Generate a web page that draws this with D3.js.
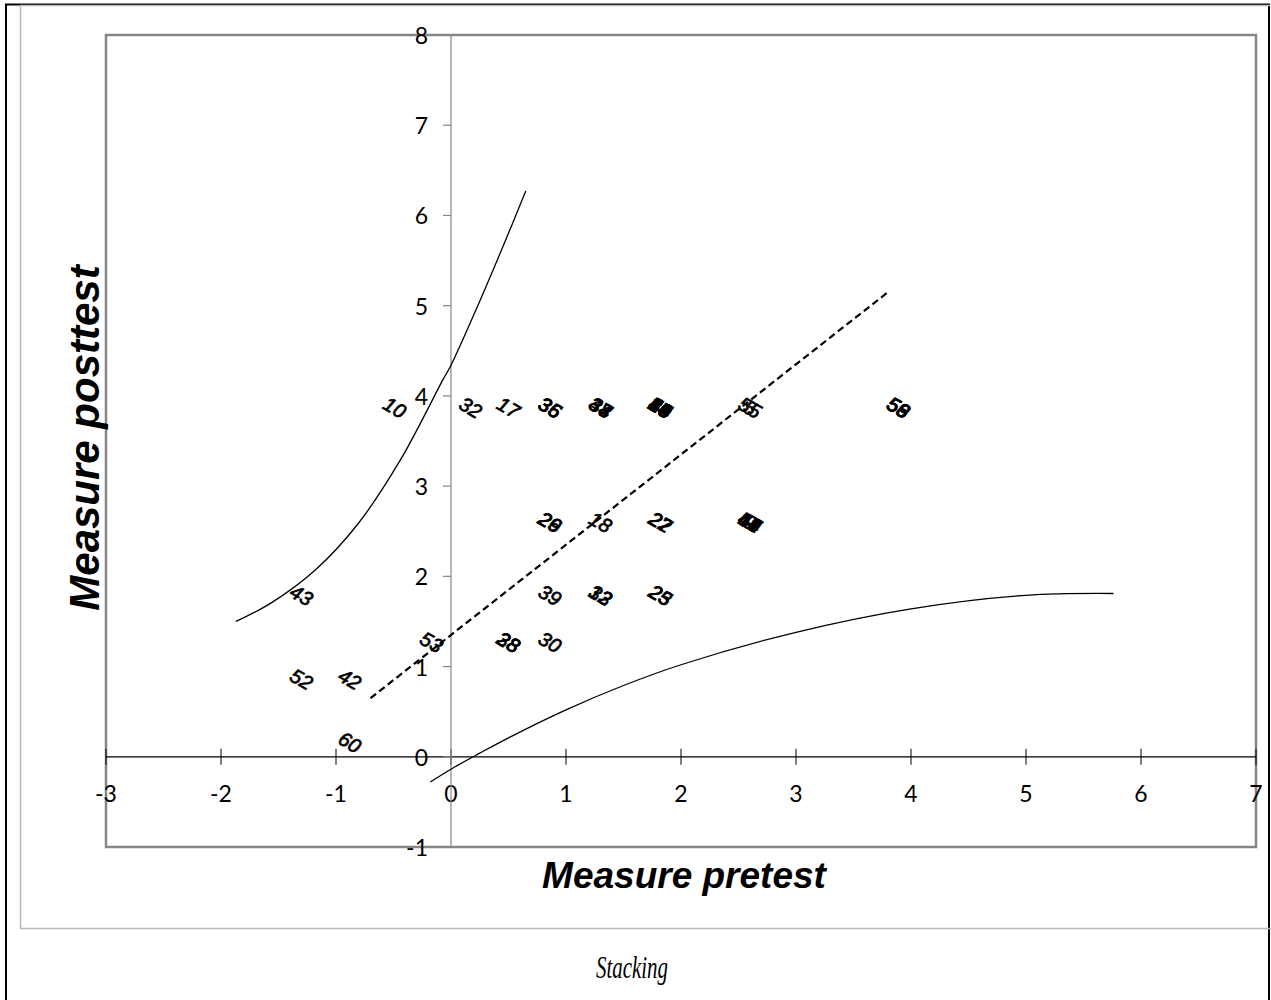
<!DOCTYPE html>
<html>
<head>
<meta charset="utf-8">
<script src="https://cdn.jsdelivr.net/npm/d3@7"></script>
<style>
  html, body { margin: 0; padding: 0; background: #fff; }
  svg { display: block; }
</style>
</head>
<body>
<svg id="chart" width="1271" height="1000"></svg>
<script>
// Person measures: pretest vs posttest, labelled by person id
const personIds = ["10","32","17","35","36","34","48","37",
                   "19","20","24","40","44","45","46","50","57","5","55","56","58","59",
                   "26","29","18","22","27","9","14","41","47","49","54",
                   "43","39","12","33","23","25",
                   "53","28","38","30",
                   "52","42","60"];
const pretest  = [-0.49,0.17,0.50,0.86,0.86,1.30,1.30,1.30,
                   1.82,1.82,1.82,1.82,1.82,1.82,1.82,1.82,1.82,2.60,2.60,3.89,3.89,3.89,
                   0.86,0.86,1.30,1.82,1.82,2.60,2.60,2.60,2.60,2.60,2.60,
                   -1.30,0.86,1.30,1.30,1.82,1.82,
                   -0.17,0.50,0.50,0.86,
                   -1.30,-0.88,-0.88];
const posttest = [3.87,3.87,3.87,3.87,3.87,3.87,3.87,3.87,
                   3.87,3.87,3.87,3.87,3.87,3.87,3.87,3.87,3.87,3.87,3.87,3.87,3.87,3.87,
                   2.60,2.60,2.60,2.60,2.60,2.60,2.60,2.60,2.60,2.60,2.60,
                   1.79,1.79,1.79,1.79,1.79,1.79,
                   1.27,1.27,1.27,1.27,
                   0.86,0.86,0.16];

// Identity (stability) line
const identityX = [-0.70, 3.80];
const identityY = [0.65, 5.15];

// Upper control curve
const upperX = [-1.87,-1.57,-1.18,-0.81,-0.44,-0.07,0.00,0.25,0.45,0.65];
const upperY = [ 1.50, 1.70, 2.07, 2.58, 3.29, 4.18,4.34,5.05,5.65,6.27];

// Lower control curve
const lowerX = [-0.18, 0.01, 0.25, 0.50, 1.00, 1.50, 2.00, 3.00, 4.00, 5.00, 5.76];
const lowerY = [-0.28,-0.13, 0.04, 0.21, 0.52, 0.79, 1.02, 1.38, 1.64, 1.79, 1.81];

const xTicks = [-3,-2,-1,0,1,2,3,4,5,6,7];
const yTicks = [-1,0,1,2,3,4,5,6,7,8];

const svg = d3.select("#chart");

// Frame around the figure and the chart area
svg.append("rect").attr("x", 6).attr("y", 4.5).attr("width", 1263).attr("height", 1010)
  .attr("fill", "none").attr("stroke", "#000").attr("stroke-width", 2);
svg.append("rect").attr("x", 20.5).attr("y", 5.5).attr("width", 1270).attr("height", 923)
  .attr("fill", "none").attr("stroke", "#b8b8b8").attr("stroke-width", 1.5);

const plot = { left: 106, right: 1256, top: 35, bottom: 847 };
const x = d3.scaleLinear().domain([-3, 7]).range([plot.left, plot.right]);
const y = d3.scaleLinear().domain([-1, 8]).range([plot.bottom, plot.top]);

// Plot area border
svg.append("rect").attr("x", plot.left).attr("y", plot.top)
  .attr("width", plot.right - plot.left).attr("height", plot.bottom - plot.top)
  .attr("fill", "none").attr("stroke", "#868686").attr("stroke-width", 2.5);

const tickFont = "Lato, 'Open Sans', sans-serif";

// Horizontal axis through y = 0, ticks crossing the line
const xAxis = svg.append("g").attr("transform", `translate(0,${y(0)})`);
xAxis.append("line").attr("x1", plot.left).attr("x2", plot.right).attr("stroke", "#000").attr("stroke-width", 1.2);
xAxis.selectAll("line.tick").data(xTicks).join("line").attr("class", "tick")
  .attr("x1", d => x(d)).attr("x2", d => x(d)).attr("y1", -8).attr("y2", 8)
  .attr("stroke", "#000").attr("stroke-width", 1);
xAxis.selectAll("text").data(xTicks).join("text")
  .attr("x", d => x(d)).attr("y", 36)
  .attr("text-anchor", "middle").attr("dominant-baseline", "central")
  .attr("font-family", tickFont).attr("font-size", 23).attr("fill", "#000")
  .text(d => d);

// Vertical axis through x = 0, ticks on the left
const yAxis = svg.append("g").attr("transform", `translate(${x(0)},0)`);
yAxis.append("line").attr("y1", plot.top).attr("y2", plot.bottom).attr("stroke", "#868686").attr("stroke-width", 1.2);
yAxis.selectAll("line.tick").data(yTicks).join("line").attr("class", "tick")
  .attr("y1", d => y(d)).attr("y2", d => y(d)).attr("x1", -8).attr("x2", 0)
  .attr("stroke", "#868686").attr("stroke-width", 1.2);
yAxis.selectAll("text").data(yTicks).join("text")
  .attr("x", -23).attr("y", d => y(d))
  .attr("text-anchor", "end").attr("dominant-baseline", "central")
  .attr("font-family", tickFont).attr("font-size", 23).attr("fill", "#000")
  .text(d => d);

// Control curves
const curveLine = d3.line().x(d => x(d[0])).y(d => y(d[1])).curve(d3.curveCatmullRom.alpha(0.5));
svg.append("path").datum(d3.zip(upperX, upperY)).attr("d", curveLine)
  .attr("fill", "none").attr("stroke", "#000").attr("stroke-width", 1.3);
svg.append("path").datum(d3.zip(lowerX, lowerY)).attr("d", curveLine)
  .attr("fill", "none").attr("stroke", "#000").attr("stroke-width", 1.3);

// Identity line, dashed
svg.append("path").datum(d3.zip(identityX, identityY))
  .attr("d", d3.line().x(d => x(d[0])).y(d => y(d[1])))
  .attr("fill", "none").attr("stroke", "#000").attr("stroke-width", 2.2)
  .attr("stroke-dasharray", "7,4");

// Person labels, rotated and centred on each point
const persons = personIds.map((id, i) => ({ id, px: pretest[i], py: posttest[i] }));
svg.append("g").selectAll("text").data(persons).join("text")
  .attr("transform", d => `translate(${x(d.px)},${y(d.py)}) rotate(30)`)
  .attr("text-anchor", "middle").attr("dominant-baseline", "central")
  .attr("font-family", "'Liberation Sans', Arial, sans-serif")
  .attr("font-style", "italic").attr("font-size", 20).attr("fill", "#000")
  .attr("stroke", "#000").attr("stroke-width", 0.7)
  .text(d => d.id);

// Axis titles
svg.append("text").attr("x", 684).attr("y", 888).attr("text-anchor", "middle")
  .attr("font-family", "'Liberation Sans', Arial, sans-serif")
  .attr("font-weight", "bold").attr("font-style", "italic").attr("font-size", 37)
  .text("Measure pretest");
svg.append("text").attr("transform", "translate(99,438) rotate(-90)").attr("text-anchor", "middle")
  .attr("font-family", "'Liberation Sans', Arial, sans-serif")
  .attr("font-weight", "bold").attr("font-style", "italic").attr("font-size", 42)
  .text("Measure posttest");

// Caption
svg.append("text").attr("x", 632).attr("y", 978).attr("text-anchor", "middle")
  .attr("font-family", "'Liberation Serif', 'Times New Roman', serif")
  .attr("font-style", "italic").attr("font-size", 31)
  .attr("textLength", 72).attr("lengthAdjust", "spacingAndGlyphs")
  .text("Stacking");
</script>
</body>
</html>
